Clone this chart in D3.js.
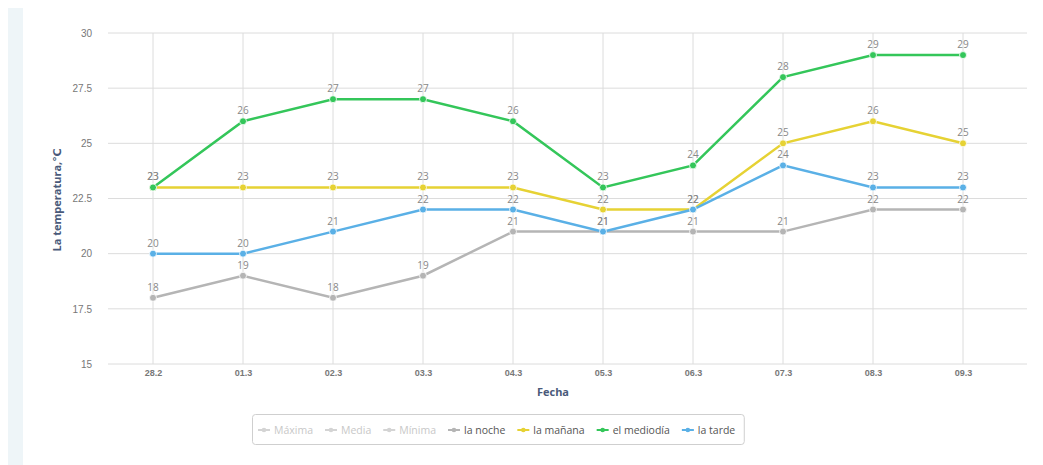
<!DOCTYPE html>
<html><head><meta charset="utf-8">
<script src="https://cdn.jsdelivr.net/npm/d3@7"></script>
<style>
body{margin:0;background:#fff;}
svg{display:block;font-family:"Open Sans","DejaVu Sans",sans-serif;}
</style></head>
<body><svg id="c" width="1043" height="465"></svg>
<script>
const categories = ["28.2","01.3","02.3","03.3","04.3","05.3","06.3","07.3","08.3","09.3"];
const noche   = [18,19,18,19,21,21,21,21,22,22];
const manana  = [23,23,23,23,23,22,22,25,26,25];
const mediodia= [23,26,27,27,26,23,24,28,29,29];
const tarde   = [20,20,21,22,22,21,22,24,23,23];
const yTicks = [15,17.5,20,22.5,25,27.5,30];
const seriesNames = ["la noche","la mañana","el mediodía","la tarde"];
const hiddenNames = ["Máxima","Media","Mínima"];
const colors = ["#b5b5b5","#e6d234","#34c65a","#5ab0e6"];

const svg = d3.select("#c");
svg.append("rect").attr("x",8).attr("y",8).attr("width",15).attr("height",457).attr("fill","#eef5f8");

const x = d3.scalePoint().domain(categories).range([153,963]);
const y = d3.scaleLinear().domain([15,30]).range([364,33]);

const g = svg.append("g");
g.selectAll(".hg").data(yTicks).join("line")
  .attr("x1",108).attr("x2",1027).attr("y1",d=>y(d)).attr("y2",d=>y(d))
  .attr("stroke","#dcdcdc").attr("stroke-width",1);
g.selectAll(".vg").data(categories).join("line")
  .attr("x1",d=>x(d)).attr("x2",d=>x(d)).attr("y1",y(30)).attr("y2",y(15))
  .attr("stroke","#dcdcdc").attr("stroke-width",1);

const yAxis = d3.axisLeft(y).tickValues(yTicks).tickSize(0).tickPadding(8).tickFormat(d=>String(d));
const ya = svg.append("g").attr("transform","translate(100,0)").call(yAxis);
ya.select(".domain").remove();
ya.selectAll("text").attr("fill","#777").attr("font-size",10);

const xAxis = d3.axisBottom(x).tickSize(0).tickPadding(6);
const xa = svg.append("g").attr("transform",`translate(0,${y(15)})`).call(xAxis);
xa.select(".domain").remove();
xa.selectAll("text").attr("fill","#777").attr("font-size",9).attr("font-weight","bold");

svg.append("text").attr("x",553).attr("y",396).attr("text-anchor","middle")
  .attr("font-size",11).attr("font-weight","bold").attr("fill","#4a5a7a").text("Fecha");
svg.append("text").attr("transform","translate(61,200) rotate(-90)").attr("text-anchor","middle")
  .attr("font-size",11).attr("font-weight","bold").attr("fill","#4a5a7a").text("La temperatura,℃");

const allSeries = [noche,manana,mediodia,tarde];
const line = d3.line().x((d,i)=>x(categories[i])).y(d=>y(d));
allSeries.forEach((s,k)=>{
  svg.append("path").datum(s).attr("d",line).attr("fill","none")
    .attr("stroke",colors[k]).attr("stroke-width",2.5);
  svg.selectAll(null).data(s).join("circle")
    .attr("cx",(d,i)=>x(categories[i])).attr("cy",d=>y(d)).attr("r",3.5)
    .attr("fill",colors[k]).attr("stroke","#fff").attr("stroke-width",0.8);
});
allSeries.forEach((s,k)=>{
  svg.selectAll(null).data(s).join("text")
    .attr("x",(d,i)=>x(categories[i])).attr("y",d=>y(d)-7)
    .attr("text-anchor","middle").attr("font-size",10).attr("fill","#888")
    .text(d=>d);
});

// legend
const lg = svg.append("g");
const box = lg.append("rect").attr("x",252.5).attr("y",414.5).attr("height",30).attr("rx",3)
  .attr("fill","#fff").attr("stroke","#cfcfcf");
const items = hiddenNames.map(n=>({name:n,color:"#d4d4d4",text:"#c8c8c8"}))
  .concat(seriesNames.map((n,k)=>({name:n,color:colors[k],text:"#555"})));
let cx = 258;
items.forEach(it=>{
  const gi = lg.append("g").attr("transform",`translate(${cx},430)`);
  gi.append("line").attr("x1",0).attr("x2",12).attr("y1",0).attr("y2",0).attr("stroke",it.color).attr("stroke-width",2);
  gi.append("circle").attr("cx",6).attr("cy",0).attr("r",2.3).attr("fill",it.color);
  const t = gi.append("text").attr("x",16).attr("y",3.5).attr("font-size",10.5).attr("fill",it.text).text(it.name);
  cx += 16 + t.node().getComputedTextLength() + 12;
});
box.attr("width", cx - 252.5 - 3);
</script></body></html>
